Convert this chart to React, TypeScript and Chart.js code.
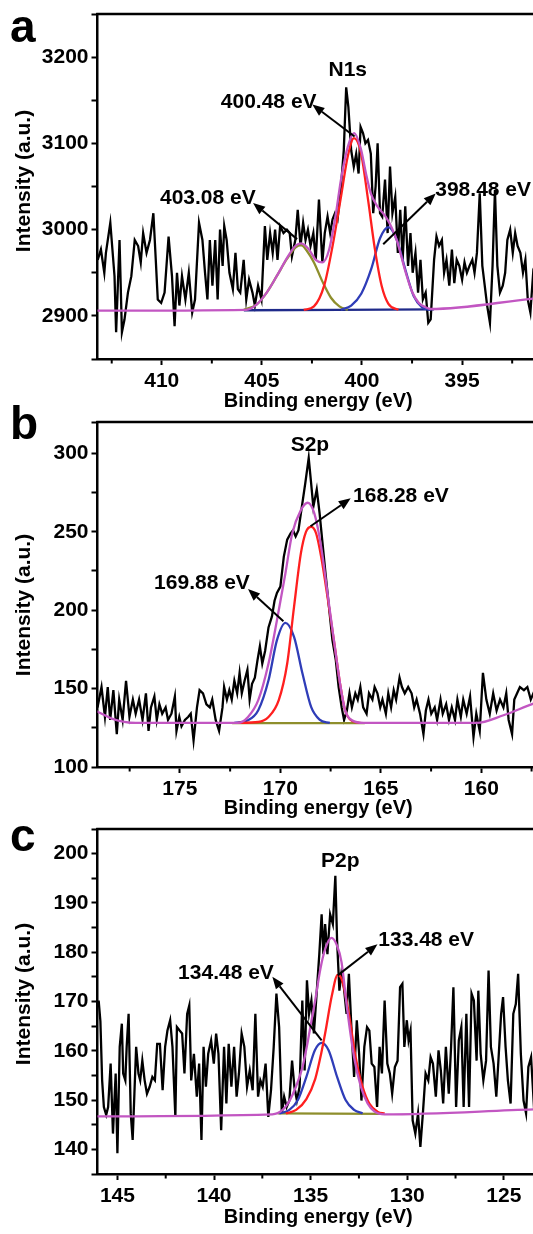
import React, { useEffect, useRef } from 'react';
import { Chart, registerables } from 'chart.js';

Chart.register(...registerables);

const FONT = '"Liberation Sans", Arial, Helvetica, sans-serif';
Chart.defaults.font.family = FONT;

type Pt = [number, number];
type Label = { text: string; x: number; y: number };
type Arrow = [number, number, number, number];

const MAGENTA = '#c256c2';
const RED = '#ff1f1f';
const BLUE = '#2f3db8';
const OLIVE = '#8e8e2c';
const NAVY = '#1f2a8a';

// ---------------- panel a : N1s ----------------
const n1sRaw: Pt[] = [
  [413.2, 2965], [413.04, 2977], [412.87, 2950], [412.79, 2973], [412.57, 3008], [412.36, 2946], [412.28, 2881], [412.11, 2988],
  [411.99, 2881], [411.86, 2896], [411.69, 2927], [411.52, 2946], [411.35, 2988], [411.18, 2981], [411.05, 2962], [410.93, 2996],
  [410.76, 2973], [410.59, 2988], [410.42, 3019], [410.3, 2965], [410.2, 2919], [410.03, 2915], [409.86, 2927], [409.66, 2992],
  [409.49, 2946], [409.36, 2888], [409.24, 2950], [409.12, 2912], [408.99, 2946], [408.82, 2919], [408.65, 2950], [408.48, 2904],
  [408.34, 2919], [408.14, 3008], [407.97, 2988], [407.84, 2950], [407.72, 2919], [407.6, 2988], [407.47, 2935], [407.33, 2988],
  [407.21, 2919], [407.09, 3000], [406.96, 2958], [406.88, 3004], [406.76, 2988], [406.62, 2950], [406.45, 2931], [406.32, 2973],
  [406.2, 2931], [406.08, 2927], [405.91, 2965], [405.78, 2919], [405.64, 2942], [405.47, 2927], [405.35, 2912], [405.19, 2935],
  [405.02, 2919], [404.85, 3004], [404.73, 2965], [404.59, 2996], [404.46, 2973], [404.34, 3000], [404.22, 2965], [404.09, 3004],
  [403.92, 2996], [403.75, 3000], [403.61, 2996], [403.5, 2969], [403.33, 2988], [403.21, 3023], [403.07, 2981], [402.94, 3008],
  [402.82, 2988], [402.7, 3000], [402.57, 2981], [402.43, 2996], [402.31, 2965], [402.15, 3035], [401.98, 2962], [401.86, 2996],
  [401.72, 3015], [401.59, 2996], [401.47, 3012], [401.35, 3019], [401.22, 3012], [401.05, 3050], [400.91, 3092], [400.79, 3165],
  [400.68, 3142], [400.54, 3092], [400.41, 3073], [400.29, 3088], [400.17, 3065], [400.07, 3119], [399.95, 3112], [399.83, 3100],
  [399.7, 3104], [399.56, 3088], [399.44, 3019], [399.32, 3050], [399.22, 3100], [399.1, 3019], [398.99, 3015], [398.85, 3058],
  [398.72, 2996], [398.6, 3073], [398.48, 3019], [398.34, 3038], [398.21, 2973], [398.09, 3023], [397.97, 2965], [397.84, 3027],
  [397.7, 2958], [397.58, 2996], [397.47, 2950], [397.33, 2973], [397.2, 2927], [397.08, 2965], [396.96, 2919], [396.82, 2927],
  [396.69, 2892], [396.57, 2896], [396.4, 2965], [396.28, 2992], [396.15, 2981], [396.01, 2988], [395.9, 2950], [395.78, 2965],
  [395.64, 2935], [395.51, 2977], [395.39, 2938], [395.27, 2965], [395.14, 2958], [395.0, 2942], [394.88, 2962], [394.76, 2950],
  [394.63, 2958], [394.49, 2965], [394.38, 2950], [394.26, 2973], [394.12, 3042], [393.99, 2958], [393.87, 2935], [393.75, 2912],
  [393.61, 2892], [393.48, 2958], [393.36, 3046], [393.24, 2958], [393.11, 2927], [392.97, 2935], [392.85, 2950], [392.74, 2988],
  [392.6, 3000], [392.47, 2973], [392.35, 2996], [392.23, 2981], [392.09, 2973], [391.96, 2950], [391.84, 2965], [391.72, 2919],
  [391.59, 2904], [391.45, 2950], [391.2, 2935],
];
const n1sEnvelope: Pt[] = [
  [413.4, 2906], [405.78, 2907], [405.27, 2913], [404.76, 2927], [404.26, 2946], [403.75, 2967], [403.33, 2981], [403.04, 2984],
  [402.65, 2977], [402.31, 2965], [401.98, 2962], [401.64, 2977], [401.3, 3019], [401.05, 3058], [400.71, 3096], [400.4, 3112],
  [400.06, 3094], [399.81, 3066], [399.56, 3042], [399.23, 3027], [398.82, 3015], [398.51, 3002], [398.24, 2986], [397.84, 2952],
  [397.5, 2928], [397.16, 2915], [396.82, 2910], [396.57, 2908], [391.45, 2920], [390.5, 2922],
];
const n1sPeak400: Pt[] = [
  [402.91, 2907], [402.4, 2911], [401.89, 2935], [401.47, 2981], [401.05, 3038], [400.71, 3085], [400.4, 3106], [400.06, 3090],
  [399.7, 3035], [399.36, 2978], [399.02, 2935], [398.68, 2914], [398.18, 2907],
];
const n1sPeak403: Pt[] = [
  [405.9, 2907], [405.27, 2913], [404.76, 2927], [404.26, 2946], [403.75, 2966], [403.33, 2979], [403.04, 2982], [402.74, 2975],
  [402.4, 2962], [401.98, 2940], [401.55, 2921], [401.13, 2911], [400.71, 2907],
];
const n1sPeak398: Pt[] = [
  [401.05, 2907], [400.54, 2912], [400.03, 2926], [399.53, 2955], [399.1, 2990], [398.68, 3003], [398.26, 2988], [397.84, 2954],
  [397.42, 2923], [397.0, 2910], [396.57, 2907],
];
const n1sBaseline: Pt[] = [[405.9, 2906.5], [396.4, 2907.5]];
const n1sXTicks = [392.5, 395, 397.5, 400, 402.5, 405, 407.5, 410, 412.5];
const n1sLabels: Label[] = [
  { text: 'N1s', x: 400.71, y: 3185 },
  { text: '400.48 eV', x: 404.66, y: 3148 },
  { text: '403.08 eV', x: 407.7, y: 3036 },
  { text: '398.48 eV', x: 393.95, y: 3046 },
];
const n1sArrows: Arrow[] = [
  [400.37, 3108, 402.48, 3145],
  [403.24, 2989, 405.44, 3031],
  [398.94, 2983, 396.32, 3042],
];

// ---------------- panel b : S2p ----------------
const s2pRaw: Pt[] = [
  [179.1, 138], [178.9, 151], [178.73, 132], [178.59, 151], [178.47, 130], [178.31, 149], [178.14, 121], [178.02, 143],
  [177.85, 130], [177.68, 155], [177.51, 132], [177.34, 143], [177.2, 134], [177.03, 143], [176.86, 130], [176.69, 147],
  [176.56, 123], [176.44, 138], [176.27, 145], [176.15, 130], [176.02, 140], [175.88, 134], [175.71, 138], [175.59, 130],
  [175.42, 134], [175.25, 145], [175.17, 123], [175.03, 132], [174.92, 126], [174.75, 130], [174.58, 132], [174.46, 134],
  [174.32, 117], [174.15, 138], [174.02, 149], [173.85, 147], [173.68, 140], [173.51, 138], [173.39, 143], [173.22, 130],
  [173.05, 123], [172.88, 138], [172.8, 151], [172.66, 143], [172.54, 149], [172.42, 143], [172.29, 155], [172.15, 147],
  [172.03, 160], [171.92, 147], [171.78, 155], [171.64, 162], [171.53, 143], [171.41, 153], [171.27, 157], [171.14, 168],
  [171.02, 177], [170.9, 166], [170.76, 174], [170.59, 189], [170.42, 196], [170.29, 206], [170.17, 211], [170.0, 215],
  [169.83, 234], [169.66, 245], [169.49, 249], [169.37, 251], [169.24, 247], [169.1, 251], [168.93, 266], [168.76, 281],
  [168.59, 297], [168.47, 281], [168.36, 266], [168.19, 277], [168.05, 262], [167.92, 245], [167.75, 223], [167.58, 202],
  [167.41, 181], [167.24, 168], [167.1, 151], [166.95, 138], [166.83, 130], [166.69, 136], [166.56, 147], [166.44, 138],
  [166.27, 147], [166.15, 143], [166.02, 151], [165.88, 138], [165.71, 134], [165.59, 147], [165.42, 143], [165.31, 151],
  [165.17, 147], [165.03, 138], [164.92, 143], [164.75, 134], [164.63, 147], [164.49, 138], [164.36, 149], [164.24, 143],
  [164.07, 157], [163.95, 151], [163.81, 147], [163.64, 151], [163.47, 147], [163.34, 138], [163.22, 143], [163.05, 134],
  [162.88, 121], [162.76, 136], [162.63, 143], [162.49, 134], [162.32, 138], [162.2, 130], [162.03, 143], [161.92, 134],
  [161.75, 140], [161.61, 130], [161.47, 138], [161.31, 130], [161.19, 143], [161.02, 132], [160.9, 143], [160.73, 134],
  [160.56, 145], [160.39, 119], [160.25, 134], [160.08, 123], [159.92, 160], [159.75, 143], [159.58, 134], [159.41, 147],
  [159.24, 136], [159.07, 143], [158.9, 138], [158.76, 147], [158.64, 130], [158.47, 121], [158.36, 143], [158.22, 147],
  [158.08, 151], [157.88, 149], [157.71, 151], [157.54, 143], [157.41, 147], [157.2, 140],
];
const s2pEnvelope: Pt[] = [
  [179.3, 136], [179.07, 135.1], [178.39, 130.9], [177.2, 128.1], [172.12, 128.1], [171.61, 131.9], [171.1, 142.6],
  [170.59, 166.0], [170.17, 193.6], [169.75, 223.4], [169.41, 248.9], [168.98, 263.8], [168.64, 268.5], [168.31, 261.7],
  [167.97, 240.4], [167.63, 208.5], [167.29, 176.6], [167.03, 153.2], [166.78, 136.2], [166.44, 129.8], [165.85, 128.1],
  [160.25, 128.1], [158.9, 133.0], [157.41, 140.4], [156.5, 144],
];
const s2pPeak168: Pt[] = [
  [172.12, 128.1], [171.1, 128.7], [170.59, 131.9], [170.08, 142.6], [169.66, 166.0], [169.32, 202.1], [168.98, 236.2],
  [168.73, 249.8], [168.47, 253.2], [168.22, 248.9], [167.97, 234.0], [167.63, 206.4], [167.29, 176.6], [167.03, 153.2],
  [166.78, 136.2], [166.44, 129.4], [166.02, 128.1],
];
const s2pPeak169: Pt[] = [
  [172.29, 128.1], [171.61, 129.8], [171.1, 136.2], [170.59, 155.3], [170.17, 180.9], [169.75, 191.9], [169.32, 183.0],
  [168.9, 159.6], [168.47, 138.3], [168.05, 130.2], [167.54, 128.1],
];
const s2pBaseline: Pt[] = [[172.4, 128], [165.8, 128]];
const s2pXTicks = [157.5, 160, 162.5, 165, 167.5, 170, 172.5, 175, 177.5];
const s2pLabels: Label[] = [
  { text: 'S2p', x: 168.53, y: 305 },
  { text: '168.28 eV', x: 164.0, y: 273 },
  { text: '169.88 eV', x: 173.9, y: 217 },
];
const s2pArrows: Arrow[] = [
  [168.5, 253.5, 166.5, 271.3],
  [169.85, 193, 171.61, 213.5],
];

// ---------------- panel c : P2p ----------------
const p2pRaw: Pt[] = [
  [145.97, 170.2], [145.88, 166], [145.79, 154], [145.7, 148.6], [145.58, 147], [145.48, 148.6], [145.35, 157.4], [145.23, 143.2],
  [145.09, 155.4], [145.0, 139.2], [144.88, 160.8], [144.77, 165.5], [144.7, 155.4], [144.59, 154], [144.52, 160.8], [144.42, 167.5],
  [144.31, 147.3], [144.21, 141.9], [144.12, 151.3], [144.03, 160.8], [143.91, 155.4], [143.82, 154], [143.71, 158], [143.59, 154],
  [143.47, 151.3], [143.33, 152.7], [143.19, 154.7], [143.06, 154], [142.94, 161.4], [142.8, 161.4], [142.66, 152], [142.53, 160.8],
  [142.41, 164.1], [142.27, 166.2], [142.15, 160.8], [142.0, 146.6], [141.92, 164.8], [141.78, 164.1], [141.65, 163.5], [141.53, 155.4],
  [141.39, 167.5], [141.28, 169.2], [141.18, 154], [141.04, 159.4], [140.89, 150.7], [140.77, 157.4], [140.65, 141.9], [140.54, 160.8],
  [140.42, 152.7], [140.3, 159.4], [140.15, 162.1], [140.01, 157.4], [139.89, 163.5], [139.77, 159.4], [139.63, 143.9], [139.48, 160.8],
  [139.36, 149.3], [139.24, 161.4], [139.1, 152.7], [138.96, 160.8], [138.83, 150.7], [138.71, 155.4], [138.57, 163.5], [138.43, 160.8],
  [138.29, 152.7], [138.15, 156], [138.0, 152], [137.86, 167.5], [137.72, 150.7], [137.6, 154], [137.48, 152.7], [137.33, 157.4],
  [137.19, 146.6], [137.05, 152], [136.91, 160.8], [136.77, 171.6], [136.63, 164.8], [136.49, 147.3], [136.37, 150.7], [136.24, 148.6],
  [136.1, 149.9], [135.96, 158], [135.84, 152.7], [135.71, 149.9], [135.57, 152.7], [135.43, 170.2], [135.31, 156], [135.19, 174.3],
  [135.08, 167.5], [134.96, 170.2], [134.83, 163.5], [134.69, 171.6], [134.55, 179.6], [134.43, 187.7], [134.34, 179.6], [134.25, 185.7],
  [134.13, 179.6], [133.99, 187.7], [133.85, 185.7], [133.72, 195.5], [133.63, 182.3], [133.51, 172.2], [133.41, 175.6], [133.28, 172.9],
  [133.14, 167.5], [133.02, 175.6], [132.89, 164.8], [132.75, 154.7], [132.61, 166.2], [132.49, 159.4], [132.37, 149.9], [132.22, 160.8],
  [132.08, 164.8], [131.96, 164.1], [131.84, 157.4], [131.7, 156.7], [131.56, 148.6], [131.43, 160.8], [131.31, 155.4], [131.17, 170.2],
  [131.03, 157.4], [130.9, 155.4], [130.78, 151.3], [130.64, 156.7], [130.5, 158], [130.37, 172.9], [130.25, 173.6], [130.15, 160.8],
  [130.02, 166.2], [129.93, 162.1], [129.83, 164.1], [129.72, 145.9], [129.58, 143.2], [129.44, 147.3], [129.32, 140.5], [129.19, 147.3],
  [129.05, 155.4], [128.91, 154], [128.79, 158.7], [128.67, 157.4], [128.52, 150.7], [128.38, 160.1], [128.26, 156], [128.14, 149.3],
  [128.0, 160.8], [127.85, 151.3], [127.73, 160.8], [127.61, 172.9], [127.47, 148.6], [127.33, 162.1], [127.2, 164.8], [127.08, 148.6],
  [126.94, 167.5], [126.8, 148.6], [126.67, 171.6], [126.55, 170.2], [126.41, 158], [126.32, 172.2], [126.2, 159.4], [126.06, 154],
  [125.92, 158], [125.79, 176.3], [125.67, 160.8], [125.53, 157.4], [125.39, 150.7], [125.26, 159.4], [125.14, 167.5], [125.04, 170.9],
  [124.91, 160.8], [124.79, 154], [124.65, 149.3], [124.51, 167.5], [124.38, 169.5], [124.26, 175.6], [124.12, 159.4], [123.98, 149.9],
  [123.85, 147.3], [123.73, 156.7], [123.59, 158.7], [123.45, 149.3], [123.2, 155],
];
const p2pEnvelope: Pt[] = [
  [146.2, 146.7], [136.98, 147.1], [136.45, 148.0], [136.1, 149.8], [135.75, 152.8], [135.4, 157.0], [135.19, 161.0],
  [134.96, 166.0], [134.76, 170.3], [134.5, 176.5], [134.25, 180.6], [133.92, 182.9], [133.65, 181.5], [133.4, 178.0],
  [133.11, 168.5], [132.75, 158.7], [132.4, 152.7], [132.05, 149.3], [131.7, 147.7], [131.17, 147.1], [123.45, 148.1],
  [122.5, 148.2],
];
const p2pPeak133: Pt[] = [
  [136.28, 147.3], [135.75, 148.0], [135.22, 150.2], [134.76, 154.3], [134.45, 159.5], [134.25, 163.5], [133.9, 171.2],
  [133.6, 175.4], [133.37, 174.3], [133.02, 167.5], [132.67, 158.7], [132.31, 152.7], [131.96, 149.3], [131.52, 147.6],
  [131.17, 147.3],
];
const p2pPeak134: Pt[] = [
  [136.63, 147.3], [136.1, 148.0], [135.66, 150.0], [135.22, 154.7], [134.78, 160.1], [134.43, 161.6], [134.07, 160.1],
  [133.63, 154.7], [133.19, 150.0], [132.75, 148.0], [132.31, 147.3],
];
const p2pBaseline: Pt[] = [[136.7, 147.3], [131.2, 147.2]];
const p2pXTicks = [125, 127.5, 130, 132.5, 135, 137.5, 140, 142.5, 145];
const p2pLabels: Label[] = [
  { text: 'P2p', x: 133.46, y: 198.5 },
  { text: '133.48 eV', x: 129.02, y: 182.5 },
  { text: '134.48 eV', x: 139.38, y: 175.7 },
];
const p2pArrows: Arrow[] = [
  [133.6, 175.3, 131.54, 181.6],
  [134.43, 162.1, 136.98, 175.0],
];

// ---------------- panel specs ----------------
interface Curve { data: Pt[]; color: string }
interface PanelSpec {
  letter: string;
  letterY: number;
  canvasTop: number;
  canvasHeight: number;
  padTop: number;
  titlePad: number;
  yTitleY: number;
  raw: Pt[];
  envelope: Pt[];
  comps: Curve[];
  baseline: Curve;
  xMin: number;
  xMax: number;
  xTicks: number[];
  yMin: number;
  yMax: number;
  yStep: number;
  yMajor: number;
  labels: Label[];
  arrows: Arrow[];
}

const CANVAS_W = 539;
const PLOT_H = 345;

const panels: PanelSpec[] = [
  {
    letter: 'a', letterY: 41.5, canvasTop: 0, canvasHeight: 420, padTop: 14, titlePad: 6.3, yTitleY: 181,
    raw: n1sRaw, envelope: n1sEnvelope,
    comps: [{ data: n1sPeak403, color: OLIVE }, { data: n1sPeak398, color: BLUE }, { data: n1sPeak400, color: RED }],
    baseline: { data: n1sBaseline, color: NAVY },
    xMin: 391.16, xMax: 413.21, xTicks: n1sXTicks, yMin: 2850, yMax: 3250, yStep: 50, yMajor: 100,
    labels: n1sLabels, arrows: n1sArrows,
  },
  {
    letter: 'b', letterY: 41.3, canvasTop: 398, canvasHeight: 430, padTop: 24, titlePad: 7.7, yTitleY: 207,
    raw: s2pRaw, envelope: s2pEnvelope,
    comps: [{ data: s2pPeak169, color: BLUE }, { data: s2pPeak168, color: RED }],
    baseline: { data: s2pBaseline, color: OLIVE },
    xMin: 157.13, xMax: 179.1, xTicks: s2pXTicks, yMin: 100, yMax: 320, yStep: 25, yMajor: 50,
    labels: s2pLabels, arrows: s2pArrows,
  },
  {
    letter: 'c', letterY: 46.3, canvasTop: 805, canvasHeight: 429, padTop: 24, titlePad: 5, yTitleY: 189,
    raw: p2pRaw, envelope: p2pEnvelope,
    comps: [{ data: p2pPeak134, color: BLUE }, { data: p2pPeak133, color: RED }],
    baseline: { data: p2pBaseline, color: OLIVE },
    xMin: 123.18, xMax: 146.03, xTicks: p2pXTicks, yMin: 135, yMax: 205, yStep: 5, yMajor: 10,
    labels: p2pLabels, arrows: p2pArrows,
  },
];

const isMult = (v: number, m: number) => Math.abs(v / m - Math.round(v / m)) < 1e-6;
const toXY = (d: Pt[]) => d.map(([x, y]) => ({ x, y }));

function drawArrow(ctx: CanvasRenderingContext2D, x0: number, y0: number, x1: number, y1: number) {
  const ang = Math.atan2(y1 - y0, x1 - x0);
  const L = 12;
  const W = 4.8;
  const bx = x1 - L * Math.cos(ang);
  const by = y1 - L * Math.sin(ang);
  ctx.lineWidth = 2;
  ctx.beginPath();
  ctx.moveTo(x0, y0);
  ctx.lineTo(bx, by);
  ctx.stroke();
  ctx.beginPath();
  ctx.moveTo(x1, y1);
  ctx.lineTo(bx - W * Math.sin(ang), by + W * Math.cos(ang));
  ctx.lineTo(bx + W * Math.sin(ang), by - W * Math.cos(ang));
  ctx.closePath();
  ctx.fill();
}

function makeDecor(p: PanelSpec) {
  return {
    id: 'decor',
    afterDraw(chart: any) {
      const { ctx, chartArea: a, scales } = chart;
      const xs = scales.x;
      const ys = scales.y;
      ctx.save();
      ctx.strokeStyle = '#000';
      ctx.fillStyle = '#000';
      ctx.lineWidth = 2.5;
      ctx.beginPath();
      ctx.moveTo(a.left - 1.25, a.top);
      ctx.lineTo(a.right, a.top);
      ctx.lineTo(a.right, a.bottom);
      ctx.stroke();

      // shorter minor ticks on the x axis
      ctx.lineWidth = 2;
      for (const v of p.xTicks) {
        if (isMult(v, 5)) continue;
        const px = xs.getPixelForValue(v);
        ctx.beginPath();
        ctx.moveTo(px, a.bottom);
        ctx.lineTo(px, a.bottom + 4.5);
        ctx.stroke();
      }

      // y axis title
      ctx.save();
      ctx.translate(24.5, p.yTitleY);
      ctx.rotate(-Math.PI / 2);
      ctx.font = `bold 21px ${FONT}`;
      ctx.textAlign = 'center';
      ctx.textBaseline = 'middle';
      ctx.fillText('Intensity (a.u.)', 0, 0);
      ctx.restore();

      ctx.font = `bold 46px ${FONT}`;
      ctx.textAlign = 'left';
      ctx.textBaseline = 'alphabetic';
      ctx.fillText(p.letter, 10, p.letterY);

      ctx.font = `bold 21px ${FONT}`;
      ctx.textAlign = 'center';
      ctx.textBaseline = 'middle';
      for (const l of p.labels) {
        ctx.fillText(l.text, xs.getPixelForValue(l.x), ys.getPixelForValue(l.y));
      }
      for (const [ax, ay, bx, by] of p.arrows) {
        drawArrow(ctx, xs.getPixelForValue(ax), ys.getPixelForValue(ay), xs.getPixelForValue(bx), ys.getPixelForValue(by));
      }
      ctx.restore();
    },
  };
}

function makeConfig(p: PanelSpec): any {
  const fit = (data: Pt[], color: string, order: number) => ({
    data: toXY(data),
    borderColor: color,
    borderWidth: 2.3,
    pointRadius: 0,
    cubicInterpolationMode: 'monotone',
    fill: false,
    order,
  });
  const tickFont = { family: FONT, size: 21, weight: 'bold' as const };
  const border = { display: true, color: '#000', width: 2.5 };
  return {
    type: 'line',
    data: {
      datasets: [
        { data: toXY(p.raw), borderColor: '#000', borderWidth: 2.3, pointRadius: 0, tension: 0, fill: false, order: 10 },
        fit(p.baseline.data, p.baseline.color, 8),
        ...p.comps.map((c, i) => fit(c.data, c.color, 6 - i)),
        fit(p.envelope, MAGENTA, 0),
      ],
    },
    options: {
      responsive: false,
      animation: false,
      events: [],
      layout: { padding: { top: p.padTop, left: 0, right: 0, bottom: 0 } },
      plugins: { legend: { display: false }, tooltip: { enabled: false } },
      scales: {
        x: {
          type: 'linear',
          reverse: true,
          min: p.xMin,
          max: p.xMax,
          bounds: 'data',
          afterBuildTicks: (s: any) => {
            s.ticks = p.xTicks.map((v) => ({ value: v }));
          },
          ticks: {
            autoSkip: false,
            maxRotation: 0,
            padding: 4,
            color: '#000',
            font: tickFont,
            callback: (v: number) => (isMult(v, 5) ? String(Math.round(v)) : ''),
          },
          grid: {
            display: true,
            drawOnChartArea: false,
            drawTicks: true,
            tickLength: 6,
            tickWidth: 2,
            tickColor: (c: any) => (c.tick && isMult(c.tick.value, 5) ? '#000' : 'rgba(0,0,0,0)'),
          },
          border,
          title: {
            display: true,
            text: 'Binding energy (eV)',
            color: '#000',
            font: { family: FONT, size: 20, weight: 'bold' },
            padding: { top: 0, bottom: p.titlePad },
          },
          afterFit: (s: any) => {
            s.height = p.canvasHeight - (p.padTop + PLOT_H);
            s.paddingLeft = 0;
            s.paddingRight = 0;
          },
        },
        y: {
          type: 'linear',
          min: p.yMin,
          max: p.yMax,
          bounds: 'data',
          ticks: {
            stepSize: p.yStep,
            autoSkip: false,
            includeBounds: false,
            padding: 3,
            color: '#000',
            font: tickFont,
            callback: (v: number) => (isMult(v, p.yMajor) ? String(Math.round(v)) : ''),
          },
          grid: { display: true, drawOnChartArea: false, drawTicks: true, tickLength: 6, tickWidth: 2, tickColor: '#000' },
          border,
          title: { display: false },
          afterFit: (s: any) => {
            s.width = 97.5;
            s.paddingTop = 0;
            s.paddingBottom = 0;
          },
        },
      },
    },
    plugins: [makeDecor(p)],
  };
}

function Panel({ spec }: { spec: PanelSpec }) {
  const ref = useRef<HTMLCanvasElement | null>(null);
  useEffect(() => {
    if (!ref.current) return;
    const chart = new Chart(ref.current, makeConfig(spec));
    return () => chart.destroy();
  }, [spec]);
  return (
    <canvas
      ref={ref}
      width={CANVAS_W}
      height={spec.canvasHeight}
      style={{ position: 'absolute', left: 0, top: spec.canvasTop, width: CANVAS_W, height: spec.canvasHeight, display: 'block' }}
    />
  );
}

export default function App() {
  useEffect(() => {
    document.body.style.margin = '0';
    document.body.style.overflow = 'hidden';
    document.documentElement.style.overflow = 'hidden';
  }, []);
  return (
    <div style={{ position: 'relative', width: 533, height: 1234, overflow: 'hidden', background: '#fff' }}>
      {panels.map((p) => (
        <Panel key={p.letter} spec={p} />
      ))}
    </div>
  );
}
